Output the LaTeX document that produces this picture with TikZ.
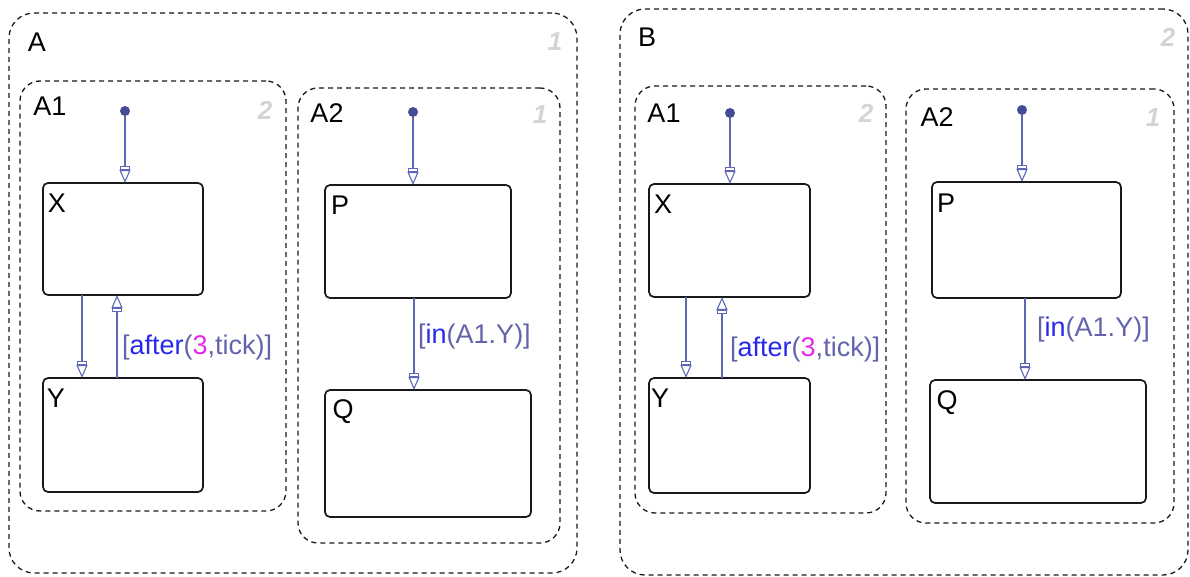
\documentclass[tikz,border=0pt]{standalone}
\usepackage{fontspec}
\setmainfont{Liberation Sans}
\usetikzlibrary{arrows.meta}
\definecolor{transc}{RGB}{96,104,180}
\definecolor{dotc}{RGB}{68,76,150}
\definecolor{slate}{RGB}{100,100,172}
\definecolor{kw}{RGB}{40,40,235}
\definecolor{num}{RGB}{230,40,230}
\definecolor{prio}{RGB}{212,212,212}
\begin{document}
\begin{tikzpicture}[x=1pt,y=-1pt,
  super/.style={draw=black!90, line width=1.3pt, dash pattern=on 5pt off 4pt,
    rounded corners=#1, inner sep=0pt, outer sep=0pt, anchor=north west},
  super/.default=20pt,
  stt/.style={draw=black!90, line width=1.7pt, rounded corners=5pt,
    inner sep=0pt, outer sep=0pt, anchor=north west},
  lbl/.style={inner sep=0pt, font=\fontsize{27}{32}\selectfont},
  prionum/.style={inner sep=0pt, text=prio, font=\fontsize{26}{31}\selectfont\bfseries\itshape},
  guard/.style={inner sep=0pt, anchor=west, text=slate, font=\fontsize{27}{32}\selectfont},
  trans/.style={draw=transc, line width=1.3pt,
    -{Rectangle[open, length=4pt, width=10pt, line width=1.1pt, fill=white]Triangle[open, length=13pt, width=11pt, line width=1.1pt, fill=white]}},
  dotn/.style={circle, fill=dotc, inner sep=0pt, minimum size=10pt}]
\useasboundingbox (0,0) rectangle (1190,577);

% ---------------- Chart A ----------------
\node[super=25pt, minimum width=568pt, minimum height=560pt] (A) at (9,13) {};
\node[super, minimum width=266pt, minimum height=430pt] (AA1) at (20,81) {};
\node[super, minimum width=262pt, minimum height=455pt] (AA2) at (298,88) {};
\node[stt, minimum width=160pt, minimum height=112pt] (AX) at (43,183) {};
\node[stt, minimum width=160pt, minimum height=114pt] (AY) at (43,378) {};
\node[stt, minimum width=186pt, minimum height=113pt] (AP) at (325,185) {};
\node[stt, minimum width=206pt, minimum height=127pt] (AQ) at (325,390) {};

\node[lbl] (lA) at (37,42) {A};
\node[prionum] (pA) at (555,42) {1};
\node[lbl] (lAA1) at (50,106) {A1};
\node[prionum] (pAA1) at (265,110) {2};
\node[lbl] (lAA2) at (327,113) {A2};
\node[prionum] (pAA2) at (540,115) {1};
\node[lbl] (lAX) at (57,203) {X};
\node[lbl] (lAY) at (56,398) {Y};
\node[lbl] (lAP) at (340,205) {P};
\node[lbl] (lAQ) at (343,412) {Q};

\node[dotn] (dA1) at (125,111) {};
\node[dotn] (dA2) at (413,112) {};
\draw[trans] (dA1) -- (dA1 |- AX.north);
\draw[trans] (dA2) -- (dA2 |- AP.north);
\coordinate (cA1) at (82,0);
\coordinate (cA2) at (117,0);
\coordinate (cA3) at (414,0);
\draw[trans] (AX.south -| cA1) -- (AY.north -| cA1);
\draw[trans] (AY.north -| cA2) -- (AX.south -| cA2);
\draw[trans] (AP.south -| cA3) -- (AQ.north -| cA3);
\node[guard] (gA1) at (122,348) {[\textcolor{kw}{after}(\textcolor{num}{3},tick)]};
\node[guard] (gA2) at (418,337) {[\textcolor{kw}{in}(A1.Y)]};

% ---------------- Chart B ----------------
\node[super=25pt, minimum width=568pt, minimum height=566pt] (B) at (620,9) {};
\node[super, minimum width=251pt, minimum height=427pt] (BA1) at (635,86) {};
\node[super, minimum width=268pt, minimum height=434pt] (BA2) at (906,89) {};
\node[stt, minimum width=161pt, minimum height=113pt] (BX) at (649,184) {};
\node[stt, minimum width=161pt, minimum height=115pt] (BY) at (649,378) {};
\node[stt, minimum width=189pt, minimum height=116pt] (BP) at (932,182) {};
\node[stt, minimum width=216pt, minimum height=123pt] (BQ) at (930,380) {};

\node[lbl] (lB) at (647,37) {B};
\node[prionum] (pB) at (1168,37) {2};
\node[lbl] (lBA1) at (664,113) {A1};
\node[prionum] (pBA1) at (866,113) {2};
\node[lbl] (lBA2) at (937,117) {A2};
\node[prionum] (pBA2) at (1153,118) {1};
\node[lbl] (lBX) at (663,204) {X};
\node[lbl] (lBY) at (660,398) {Y};
\node[lbl] (lBP) at (946,203) {P};
\node[lbl] (lBQ) at (947,403) {Q};

\node[dotn] (dB1) at (730,113) {};
\node[dotn] (dB2) at (1022,110) {};
\draw[trans] (dB1) -- (dB1 |- BX.north);
\draw[trans] (dB2) -- (dB2 |- BP.north);
\coordinate (cB1) at (686,0);
\coordinate (cB2) at (722,0);
\coordinate (cB3) at (1025,0);
\draw[trans] (BX.south -| cB1) -- (BY.north -| cB1);
\draw[trans] (BY.north -| cB2) -- (BX.south -| cB2);
\draw[trans] (BP.south -| cB3) -- (BQ.north -| cB3);
\node[guard] (gB1) at (730,350) {[\textcolor{kw}{after}(\textcolor{num}{3},tick)]};
\node[guard] (gB2) at (1037,330) {[\textcolor{kw}{in}(A1.Y)]};
\end{tikzpicture}
\end{document}
